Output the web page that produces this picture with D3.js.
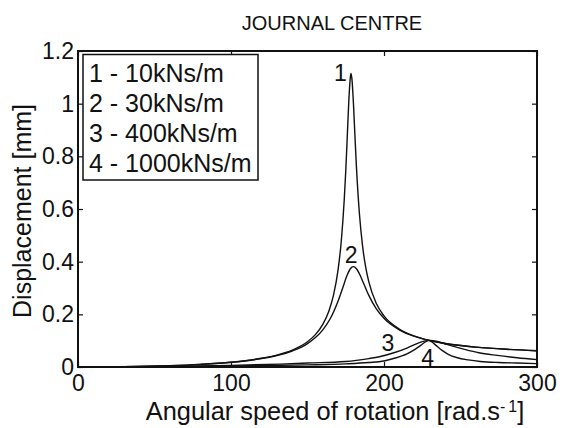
<!DOCTYPE html>
<html>
<head>
<meta charset="utf-8">
<script src="https://cdn.jsdelivr.net/npm/d3@7"></script>
<style>
  html, body { margin: 0; padding: 0; background: #fff; }
  svg { display: block; font-family: "Liberation Sans", Arial, sans-serif; }
</style>
</head>
<body>
<svg id="chart" width="564" height="428"></svg>
<script>
// ---- data ----
const title = "JOURNAL CENTRE";
const xTicks = [0, 100, 200, 300];
const yTicks = [0, 0.2, 0.4, 0.6, 0.8, 1, 1.2];
const yTickLabels = ["0", "0.2", "0.4", "0.6", "0.8", "1", "1.2"];
const legendLabels = ["1 - 10kNs/m", "2 - 30kNs/m", "3 - 400kNs/m", "4 - 1000kNs/m"];
const curveNames = ["1", "2", "3", "4"];

const speed1 = [0,20,40,60,80,100,120,130,140,150,155,160,164,167,170,172,174,175,176,177,178,178.4,179,180,181,182,184,186,188,190,195,200,210,220,227,240,260,280,300];
const disp1  = [0,0.0005,0.0021,0.0051,0.0101,0.0183,0.033,0.0453,0.0641,0.096,0.122,0.162,0.213,0.273,0.370,0.473,0.634,0.744,0.876,1.010,1.100,1.115,1.096,1.004,0.878,0.758,0.577,0.459,0.380,0.325,0.241,0.194,0.144,0.117,0.105,0.089,0.0756,0.0673,0.0619];

const speed2 = [0,20,40,60,80,100,120,130,140,150,160,165,170,173,176,178,180,182,184,187,190,195,200,210,220,227,240,260,280,300];
const disp2  = [0,0.0005,0.0021,0.0051,0.0100,0.0179,0.0321,0.0436,0.0608,0.0889,0.141,0.185,0.251,0.300,0.350,0.373,0.381,0.373,0.353,0.313,0.273,0.221,0.185,0.141,0.116,0.104,0.0894,0.0755,0.0672,0.0619];

const speed3 = [0,50,100,132,150,175,190,197,207,215,222,227,230,235,241,252,262,274,287,300];
const disp3  = [0,0.002,0.006,0.011,0.015,0.021,0.032,0.039,0.055,0.072,0.09,0.099,0.101,0.097,0.086,0.068,0.054,0.044,0.035,0.028];

const speed4 = [0,50,100,150,175,190,200,208,215,220,224,227,229,231,234,238,242,248,255,263,275,287,300];
const disp4  = [0,0.001,0.004,0.008,0.012,0.017,0.023,0.035,0.050,0.066,0.082,0.095,0.101,0.096,0.082,0.063,0.048,0.035,0.027,0.021,0.017,0.015,0.013];

// curve label anchor (speed, displacement)
const labelSpeed = [171.5, 178.5, 202.5, 228.5];
const labelDisp  = [1.118, 0.425, 0.091, 0.033];

// ---- layout ----
const L = 78, R = 537, T = 51, B = 367;
const svg = d3.select("#chart");
const x = d3.scaleLinear().domain([0, 300]).range([L, R]);
const y = d3.scaleLinear().domain([0, 1.2]).range([B, T]);

const series = [
  speed1.map((s, i) => [s, disp1[i]]),
  speed2.map((s, i) => [s, disp2[i]]),
  speed3.map((s, i) => [s, disp3[i]]),
  speed4.map((s, i) => [s, disp4[i]])
];

const line = d3.line().x(d => x(d[0])).y(d => y(d[1])).curve(d3.curveMonotoneX);

const plot = svg.append("g");
plot.selectAll("path.curve").data(series).enter().append("path")
  .attr("class", "curve")
  .attr("d", line)
  .attr("fill", "none")
  .attr("stroke", "#111")
  .attr("stroke-width", 1.4);

// axes (ticks inward)
const tickLen = 5;
const axBottom = d3.axisBottom(x).tickValues(xTicks).tickSize(-tickLen).tickPadding(8).tickFormat(d3.format("d"));
const axTop = d3.axisTop(x).tickValues(xTicks).tickSize(-tickLen).tickFormat("");
const axLeft = d3.axisLeft(y).tickValues(yTicks).tickSize(-tickLen).tickPadding(4).tickFormat((d, i) => yTickLabels[i]);
const axRight = d3.axisRight(y).tickValues(yTicks).tickSize(-tickLen).tickFormat("");

function styleAxis(g) {
  g.select(".domain").remove();
  g.selectAll(".tick line").attr("stroke", "#111").attr("stroke-width", 1.2);
  g.selectAll(".tick text").attr("fill", "#111").attr("font-size", 23).attr("font-family", "Liberation Sans, Arial, sans-serif");
}
svg.append("g").attr("transform", `translate(0,${B})`).call(axBottom).call(styleAxis);
svg.append("g").attr("transform", `translate(0,${T})`).call(axTop).call(styleAxis);
svg.append("g").attr("transform", `translate(${L},0)`).call(axLeft).call(styleAxis);
svg.append("g").attr("transform", `translate(${R},0)`).call(axRight).call(styleAxis);

// frame
svg.append("rect").attr("x", L).attr("y", T).attr("width", R - L).attr("height", B - T)
  .attr("fill", "none").attr("stroke", "#111").attr("stroke-width", 2);

// legend
const lg = svg.append("g");
lg.append("rect").attr("x", 83).attr("y", 54.5).attr("width", 175).attr("height", 125.5)
  .attr("fill", "#fff").attr("stroke", "#111").attr("stroke-width", 1.5);
lg.selectAll("text").data(legendLabels).enter().append("text")
  .attr("x", 89).attr("y", (d, i) => 81.5 + i * 30.3)
  .attr("font-size", 25).attr("fill", "#111")
  .text(d => d);

// curve number labels
svg.selectAll("text.cl").data(curveNames).enter().append("text")
  .attr("class", "cl")
  .attr("x", (d, i) => x(labelSpeed[i]))
  .attr("y", (d, i) => y(labelDisp[i]))
  .attr("text-anchor", "middle")
  .attr("dominant-baseline", "central")
  .attr("font-size", 23).attr("fill", "#111")
  .text(d => d);

// title
svg.append("text").attr("x", 332).attr("y", 30).attr("text-anchor", "middle")
  .attr("font-size", 20).attr("fill", "#111").text(title);

// x label
const xl = svg.append("text").attr("x", 335).attr("y", 420).attr("text-anchor", "middle")
  .attr("font-size", 25.4).attr("fill", "#111");
xl.append("tspan").text("Angular speed of rotation [rad.s");
xl.append("tspan").attr("font-size", 16).attr("dy", -8).text("-");
xl.append("tspan").attr("font-size", 16).attr("dx", 3).text("1");
xl.append("tspan").attr("dy", 8).text("]");

// y label
svg.append("text").attr("transform", `translate(31,${(T + B) / 2 + 2}) rotate(-90)`)
  .attr("text-anchor", "middle").attr("font-size", 25).attr("fill", "#111")
  .text("Displacement [mm]");
</script>
</body>
</html>
